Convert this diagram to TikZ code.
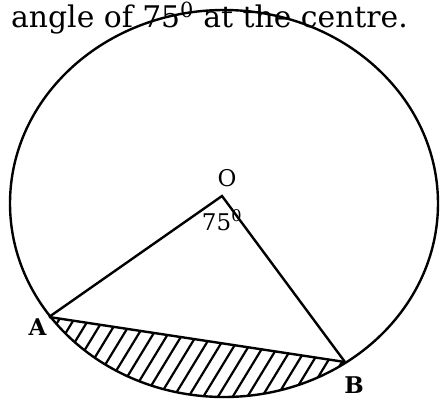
\documentclass[tikz,border=0pt]{standalone}
\usepackage{fontspec}
\setmainfont{DejaVu Serif}
\usepackage{tikz}
\usetikzlibrary{calc}

\begin{document}
\begin{tikzpicture}[x=1pt, y=-1pt, line width=2.4pt,
    ptlabel/.style={inner sep=0pt, font=\fontsize{23}{26}\selectfont}]
    \useasboundingbox (0,0) rectangle (440,400);
    \node[anchor=base west, inner sep=0pt, font=\fontsize{29.8}{34}\selectfont] (title) at (10,27) {angle of 75\textsuperscript{0} at the centre.};
    \coordinate (centre) at (224,203.5);
    \coordinate (O) at (222,196);
    \coordinate (A) at (49,317);
    \coordinate (B) at (345,362);
    % shaded segment
    \begin{scope}
        \clip (centre) ellipse [x radius=214, y radius=193.5];
        \clip ($(A)!-0.2!(B)$) -- ($(A)!1.2!(B)$) -- ++(0,80) -- ($(A)!-0.2!(B)+(0,150)$) -- cycle;
        \foreach \x in {-40,-25.3,...,400}
            \draw[line width=2.2pt] (\x,410) -- ++(70,-115);
    \end{scope}
    \draw (centre) ellipse [x radius=214, y radius=193.5];
    \path [draw] (A) -- (O) -- (B);
    \path [draw] (A) -- (B);
    \node[ptlabel] (labO) at (227,178) {O};
    \node[ptlabel] (labangle) at (222,220) {75\textsuperscript{0}};
    \node[ptlabel, font=\fontsize{23}{26}\selectfont\bfseries] (labA) at (37.5,327) {A};
    \node[ptlabel, font=\fontsize{23}{26}\selectfont\bfseries] (labB) at (354,385) {B};
\end{tikzpicture}
\end{document}
